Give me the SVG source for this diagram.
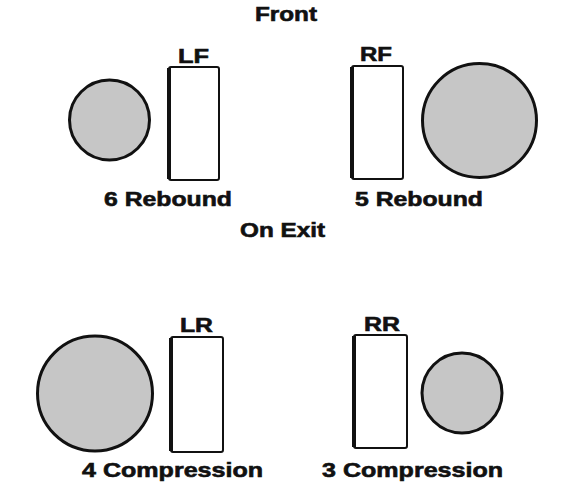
<svg xmlns="http://www.w3.org/2000/svg" width="570" height="495" viewBox="0 0 570 495">
<style>
.t{font-family:"Liberation Sans",Arial,sans-serif;font-weight:bold;font-size:20px;fill:#111;stroke:#111;stroke-width:0.6}
.c{fill:#c6c6c6;stroke:#111;stroke-width:3}
.r{fill:#fff;stroke:#111;stroke-width:2}
.e{stroke:#111;stroke-width:4;fill:none}
</style>
<rect width="570" height="495" fill="#fff"/>
<text class="t" x="255" y="21" textLength="62" lengthAdjust="spacingAndGlyphs">Front</text>
<text class="t" x="240" y="237" textLength="85" lengthAdjust="spacingAndGlyphs">On Exit</text>
<g id="LF">
<circle class="c" cx="109.5" cy="120" r="40"/>
<rect class="r" x="169" y="67" width="50" height="113" rx="2"/>
<line class="e" x1="169" y1="68" x2="169" y2="179"/>
<text class="t" x="178" y="63" textLength="31" lengthAdjust="spacingAndGlyphs">LF</text>
<text class="t" x="104" y="206" textLength="128" lengthAdjust="spacingAndGlyphs">6 Rebound</text>
</g>
<g id="RF">
<rect class="r" x="352" y="66" width="51" height="113" rx="2"/>
<line class="e" x1="352" y1="67" x2="352" y2="178"/>
<circle class="c" cx="479.5" cy="120.5" r="57"/>
<text class="t" x="360" y="61" textLength="32" lengthAdjust="spacingAndGlyphs">RF</text>
<text class="t" x="355" y="206" textLength="128" lengthAdjust="spacingAndGlyphs">5 Rebound</text>
</g>
<g id="LR">
<circle class="c" cx="95" cy="393.5" r="57.5"/>
<rect class="r" x="171" y="337" width="52" height="115" rx="2"/>
<line class="e" x1="171" y1="338" x2="171" y2="451"/>
<text class="t" x="180" y="332" textLength="33" lengthAdjust="spacingAndGlyphs">LR</text>
<text class="t" x="82" y="477" textLength="181" lengthAdjust="spacingAndGlyphs">4 Compression</text>
</g>
<g id="RR">
<rect class="r" x="354" y="335" width="53" height="113" rx="2"/>
<line class="e" x1="354" y1="336" x2="354" y2="447"/>
<circle class="c" cx="462" cy="393" r="40"/>
<text class="t" x="364" y="331" textLength="36" lengthAdjust="spacingAndGlyphs">RR</text>
<text class="t" x="322" y="477" textLength="181" lengthAdjust="spacingAndGlyphs">3 Compression</text>
</g>
</svg>
